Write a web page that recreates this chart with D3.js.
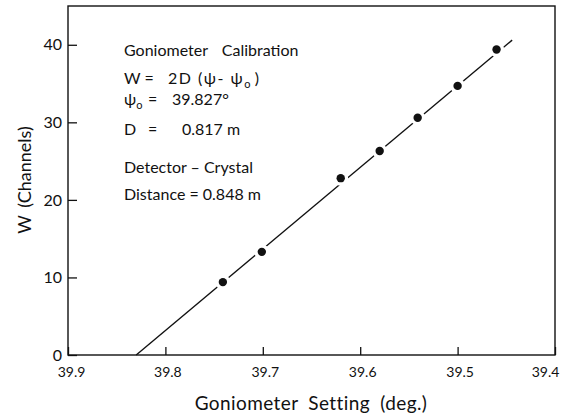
<!DOCTYPE html>
<html>
<head>
<meta charset="utf-8">
<script src="https://cdn.jsdelivr.net/npm/d3@7"></script>
<style>
  body { margin: 0; background: #fff; }
  text { font-family: Lato, "Open Sans", sans-serif; fill: #111; }
  .axis path { display: none; }
  .axis line { stroke: #111; stroke-width: 1.3; }
  .axis text { fill: #111; }
  .xaxis text { font-size: 14px; }
  .yaxis text { font-size: 16px; }
</style>
</head>
<body>
<div class="chart"></div>
<script>
// measured points
let angle = [39.741, 39.701, 39.620, 39.580, 39.541, 39.500, 39.460];
let channels = [9.4, 13.3, 22.8, 26.3, 30.6, 34.7, 39.4];
// calibration fit line ends
let fitAngle = [39.830, 39.444];
let fitW = [0, 40.6];
let xTicks = [39.9, 39.8, 39.7, 39.6, 39.5, 39.4];
let yTicks = [0, 10, 20, 30, 40];

let width = 568;
let height = 416;
let margin = {
  top: 6,
  left: 68,
  right: 13,
  bottom: 61
};

let svg = d3.select(".chart")
  .append("svg")
  .attr("width", width)
  .attr("height", height);

let x = d3.scaleLinear()
  .domain([39.9, 39.4])
  .range([margin.left, width - margin.right]);

let y = d3.scaleLinear()
  .domain([0, 45])
  .range([height - margin.bottom, margin.top]);

let xAxis = svg.append("g")
  .attr("class", "axis xaxis")
  .attr("transform", "translate(0," + (height - margin.bottom) + ")")
  .call(d3.axisBottom(x)
    .tickValues(xTicks)
    .tickFormat(d3.format(".1f"))
    .tickSizeInner(-8)
    .tickSizeOuter(0)
    .tickPadding(12));

// last label sits a little inside the corner
xAxis.selectAll(".tick text")
  .attr("dx", function(d) { return d === 39.4 ? -10 : (d === 39.9 ? 3 : 2); });

svg.append("g")
  .attr("class", "axis yaxis")
  .attr("transform", "translate(" + margin.left + ",0)")
  .call(d3.axisLeft(y)
    .tickValues(yTicks)
    .tickSizeInner(-9)
    .tickSizeOuter(0)
    .tickPadding(6));

// frame
svg.append("rect")
  .attr("x", x(39.9))
  .attr("y", y(45))
  .attr("width", x(39.4) - x(39.9))
  .attr("height", y(0) - y(45))
  .attr("fill", "none")
  .attr("stroke", "#111")
  .attr("stroke-width", 1.4);

// fit line
let line = d3.line()
  .x(function(d, i) { return x(fitAngle[i]); })
  .y(function(d, i) { return y(fitW[i]); });

svg.append("path")
  .datum(fitAngle)
  .attr("d", line)
  .attr("fill", "none")
  .attr("stroke", "#111")
  .attr("stroke-width", 1.4);

// gap around each point, then the point
svg.selectAll(".gap")
  .data(angle)
  .enter()
  .append("circle")
  .attr("class", "gap")
  .attr("cx", function(d) { return x(d); })
  .attr("cy", function(d, i) { return y(channels[i]); })
  .attr("r", 7.5)
  .attr("fill", "#fff");

svg.selectAll(".dot")
  .data(angle)
  .enter()
  .append("circle")
  .attr("class", "dot")
  .attr("cx", function(d) { return x(d); })
  .attr("cy", function(d, i) { return y(channels[i]); })
  .attr("r", 4.2)
  .attr("fill", "#111");

// axis titles
svg.append("text")
  .attr("x", 311)
  .attr("y", 410)
  .attr("text-anchor", "middle")
  .style("font-size", "19px")
  .style("letter-spacing", "0.4px")
  .style("word-spacing", "5px")
  .text("Goniometer Setting (deg.)");

svg.append("text")
  .attr("transform", "translate(31,180) rotate(-90)")
  .attr("text-anchor", "middle")
  .style("font-size", "18px")
  .style("word-spacing", "3px")
  .text("W (Channels)");

// annotation block
let note = svg.append("g").style("font-size", "16px");

note.append("text").attr("x", 124).attr("y", 56)
  .style("word-spacing", "10px")
  .text("Goniometer Calibration");

let l2 = note.append("text").attr("x", 124).attr("y", 84);
l2.append("tspan").text("W =");
l2.append("tspan").attr("x", 168).style("letter-spacing", "1.5px").text("2D (ψ- ψ");
l2.append("tspan").attr("dy", 4).style("font-size", "11px").text("o");
l2.append("tspan").attr("dy", -4).text("  )");

let l3 = note.append("text").attr("x", 124).attr("y", 105);
l3.append("tspan").text("ψ");
l3.append("tspan").attr("dy", 4).style("font-size", "11px").text("o");
l3.append("tspan").attr("dy", -4).attr("x", 148).text("=");
l3.append("tspan").attr("x", 172).text("39.827°");

let l4 = note.append("text").attr("x", 124).attr("y", 135);
l4.append("tspan").text("D");
l4.append("tspan").attr("x", 148).text("=");
l4.append("tspan").attr("x", 182).text("0.817 m");

note.append("text").attr("x", 124).attr("y", 173).text("Detector – Crystal");
note.append("text").attr("x", 124).attr("y", 200).text("Distance = 0.848 m");
</script>
</body>
</html>
